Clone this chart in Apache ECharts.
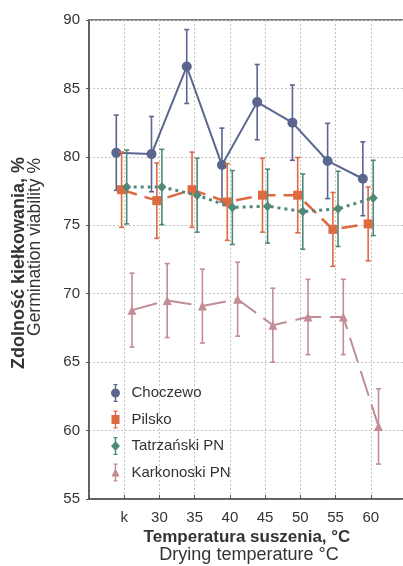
<!DOCTYPE html>
<html>
<head>
<meta charset="utf-8">
<script src="https://cdn.jsdelivr.net/npm/echarts@6/dist/echarts.min.js"></script>
<style>html,body{margin:0;padding:0;background:#fff;}#c{width:403px;height:566px;}</style>
</head>
<body>
<div id="c"></div>
<script>
const categories = ['k', '30', '35', '40', '45', '50', '55', '60'];
const seriesNames = ['Choczewo', 'Pilsko', 'Tatrzański PN', 'Karkonoski PN'];
const choczewo = [80.3, 80.2, 86.6, 79.4, 84.0, 82.5, 79.7, 78.4];
const choczewoErr = [2.75, 2.75, 2.7, 2.7, 2.75, 2.75, 2.75, 2.7];
const pilsko = [77.6, 76.8, 77.6, 76.7, 77.2, 77.2, 74.7, 75.1];
const pilskoErr = [2.75, 2.75, 2.75, 2.8, 2.7, 2.75, 2.7, 2.7];
const tatrzanski = [77.8, 77.8, 77.2, 76.3, 76.4, 76.0, 76.2, 77.0];
const tatrzanskiErr = [2.7, 2.75, 2.7, 2.7, 2.7, 2.75, 2.75, 2.75];
const karkonoski = [68.8, 69.5, 69.1, 69.6, 67.7, 68.3, 68.3, 60.3];
const karkonoskiErr = [2.7, 2.7, 2.7, 2.7, 2.7, 2.75, 2.75, 2.75];

const yMin = 55, yMax = 90, yStep = 5;
const FONT = "'Liberation Sans', Arial, sans-serif";

const colors = ['#5b6690', '#de6a42', '#4f8a78', '#c28d95'];
const offsets = [-0.225, -0.075, 0.07, 0.22];
const symbols = ['circle', 'rect', 'diamond', 'triangle'];
const symbolSizes = [10, 9, [9, 10], 9];
const lineStyles = [
  {width: 2, type: 'solid'},
  {width: 2.5, type: [16, 8]},
  {width: 3, type: [3, 4]},
  {width: 2, type: [26, 9]}
];
const values = [choczewo, pilsko, tatrzanski, karkonoski];
const errors = [choczewoErr, pilskoErr, tatrzanskiErr, karkonoskiErr];

const stem = 'M3,0H7V1.2H5.7V16.8H7V18H3V16.8H4.3V1.2H3Z ';
const legendIcons = [
  'path://' + stem + 'M0.5,9A4.5,4.5,0,1,1,9.5,9A4.5,4.5,0,1,1,0.5,9Z',
  'path://' + stem + 'M1,4.5H9V13.5H1Z',
  'path://' + stem + 'M5,4L9.5,9L5,14L0.5,9Z',
  'path://' + stem + 'M5,4.5L9,13L1,13Z'
];

function makeErrRender(color) {
  return function (params, api) {
    const x = api.value(0), lo = api.value(1), hi = api.value(2);
    const pLo = api.coord([x, lo]), pHi = api.coord([x, hi]);
    const w = 2.5;
    const style = {stroke: color, lineWidth: 1.6, fill: null};
    return {
      type: 'group',
      children: [
        {type: 'line', shape: {x1: pHi[0], y1: pHi[1], x2: pLo[0], y2: pLo[1]}, style: style},
        {type: 'line', shape: {x1: pHi[0] - w, y1: pHi[1], x2: pHi[0] + w, y2: pHi[1]}, style: style},
        {type: 'line', shape: {x1: pLo[0] - w, y1: pLo[1], x2: pLo[0] + w, y2: pLo[1]}, style: style}
      ]
    };
  };
}

const series = [];
seriesNames.forEach(function (name, s) {
  series.push({
    name: name,
    type: 'custom',
    renderItem: makeErrRender(colors[s]),
    encode: {x: 0, y: [1, 2]},
    itemStyle: {color: colors[s]},
    data: values[s].map(function (v, i) { return [i + offsets[s], v - errors[s][i], v + errors[s][i]]; }),
    z: 2 + s * 2,
    silent: true
  });
  series.push({
    name: name,
    type: 'line',
    data: values[s].map(function (v, i) { return [i + offsets[s], v]; }),
    symbol: symbols[s],
    symbolSize: symbolSizes[s],
    showSymbol: true,
    itemStyle: {color: colors[s], opacity: 1},
    lineStyle: Object.assign({color: colors[s]}, lineStyles[s]),
    z: 3 + s * 2,
    silent: true
  });
});

const chart = echarts.init(document.getElementById('c'), null, {renderer: 'canvas'});
chart.setOption({
  animation: false,
  backgroundColor: '#ffffff',
  grid: {left: 89, right: -3, top: 20, bottom: 67, show: true, borderColor: '#555', borderWidth: 1.5,
         backgroundColor: 'transparent', outerBoundsMode: 'none', containLabel: false},
  xAxis: {
    type: 'value',
    min: -1, max: 8, interval: 1,
    axisLine: {show: true, onZero: false, lineStyle: {color: '#555', width: 1.5}},
    axisTick: {show: true, inside: true, length: 4, lineStyle: {color: '#555', width: 1}},
    axisLabel: {
      color: '#333', fontSize: 15, fontFamily: FONT, margin: 11,
      formatter: function (v) { const i = Math.round(v); return (Math.abs(v - i) < 1e-6 && i >= 0 && i < categories.length) ? categories[i] : ''; }
    },
    splitLine: {show: true, lineStyle: {color: '#c4c4c4', type: [2, 2], width: 1}}
  },
  yAxis: {
    type: 'value',
    min: yMin, max: yMax, interval: yStep,
    axisLine: {show: true, onZero: false, lineStyle: {color: '#555', width: 1.5}},
    axisTick: {show: true, inside: false, length: 3, lineStyle: {color: '#555', width: 1}},
    axisLabel: {color: '#333', fontSize: 15, fontFamily: FONT, margin: 9},
    splitLine: {show: true, lineStyle: {color: '#c4c4c4', type: [2, 2], width: 1}}
  },
  legend: {
    orient: 'vertical',
    left: 106, top: 379,
    itemWidth: 10, itemHeight: 18, itemGap: 8.5,
    textStyle: {color: '#333', fontSize: 15, fontFamily: FONT, padding: [0, 0, 0, 6]},
    data: seriesNames.map(function (n, s) { return {name: n, icon: legendIcons[s], itemStyle: {color: colors[s]}}; }),
    selectedMode: false
  },
  graphic: [
    {type: 'text', x: 19, y: 157, rotation: Math.PI / 2,
     style: {text: 'Zdolność kiełkowania, %', font: 'bold 18px ' + FONT, fill: '#333', textAlign: 'right', textVerticalAlign: 'middle'}},
    {type: 'text', x: 35, y: 158, rotation: Math.PI / 2,
     style: {text: 'Germination viability %', font: '17.5px ' + FONT, fill: '#333', textAlign: 'right', textVerticalAlign: 'middle'}},
    {type: 'text', x: 247, y: 537,
     style: {text: 'Temperatura suszenia, °C', font: 'bold 17px ' + FONT, fill: '#333', textAlign: 'center', textVerticalAlign: 'middle'}},
    {type: 'text', x: 249, y: 555,
     style: {text: 'Drying temperature °C', font: '18px ' + FONT, fill: '#333', textAlign: 'center', textVerticalAlign: 'middle'}}
  ],
  series: series
});
</script>
</body>
</html>
